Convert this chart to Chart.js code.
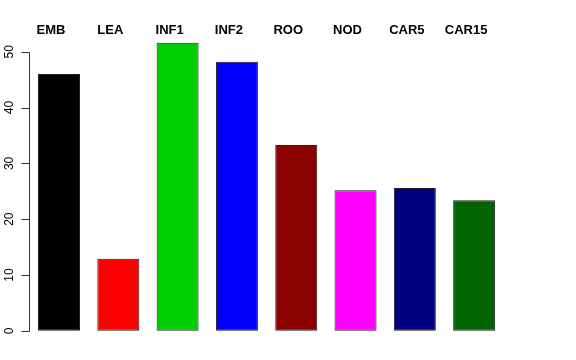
<!DOCTYPE html>
<html>
<head>
<meta charset="utf-8">
<script src="https://cdn.jsdelivr.net/npm/chart.js@4.4.1/dist/chart.umd.min.js"></script>
<style>
html,body{margin:0;padding:0;background:#fff;}
#wrap{width:576px;height:360px;}
</style>
</head>
<body>
<div id="wrap"><canvas id="c" width="576" height="360"></canvas></div>
<script>
const categories = ["EMB","LEA","INF1","INF2","ROO","NOD","CAR5","CAR15"];
const values = [46.0, 12.9, 51.6, 48.2, 33.3, 25.2, 25.6, 23.4];
const barColors = ["#000000","#FF0000","#00CD00","#0000FF","#8B0000","#FF00FF","#000080","#006400"];
const yTicks = [0, 10, 20, 30, 40, 50];

const overlay = {
  id: 'overlay',
  afterDraw(chart) {
    const ctx = chart.ctx;
    const xs = chart.scales.x, ys = chart.scales.y;
    ctx.save();
    // y axis
    const ax = 29.5;
    ctx.strokeStyle = '#333';
    ctx.lineWidth = 1;
    ctx.beginPath();
    ctx.moveTo(ax, Math.round(ys.getPixelForValue(yTicks[0])) + 0.5);
    ctx.lineTo(ax, Math.round(ys.getPixelForValue(yTicks[yTicks.length-1])) + 0.5);
    yTicks.forEach(t => {
      const y = Math.round(ys.getPixelForValue(t)) + 0.5;
      ctx.moveTo(ax, y);
      ctx.lineTo(ax - 8, y);
    });
    ctx.stroke();
    ctx.fillStyle = '#000';
    ctx.font = '12px "Liberation Sans", Arial, sans-serif';
    ctx.textAlign = 'center';
    ctx.textBaseline = 'alphabetic';
    yTicks.forEach(t => {
      const y = ys.getPixelForValue(t);
      ctx.save();
      ctx.translate(12.7, y);
      ctx.rotate(-Math.PI/2);
      ctx.fillText(String(t), 0, 0);
      ctx.restore();
    });
    // category labels on top
    ctx.font = 'bold 13px "Liberation Sans", Arial, sans-serif';
    ctx.textAlign = 'center';
    categories.forEach((c, i) => {
      const x = xs.getPixelForValue(i) - 8;
      ctx.fillText(c, x, 34);
    });
    ctx.restore();
  }
};

new Chart(document.getElementById('c'), {
  type: 'bar',
  data: {
    labels: categories,
    datasets: [{
      data: values,
      backgroundColor: barColors,
      borderColor: '#222',
      borderWidth: 1,
      borderSkipped: false,
      barPercentage: 0.708,
      categoryPercentage: 1.0,
      clip: false
    }]
  },
  options: {
    responsive: false,
    animation: false,
    events: [],
    layout: { padding: { left: 29.35, right: 72.2, top: 51.8, bottom: 29.2 } },
    plugins: { legend: { display: false }, tooltip: { enabled: false } },
    scales: {
      x: { display: false },
      y: { display: false, min: 0, max: 50 }
    }
  },
  plugins: [overlay]
});
</script>
</body>
</html>
